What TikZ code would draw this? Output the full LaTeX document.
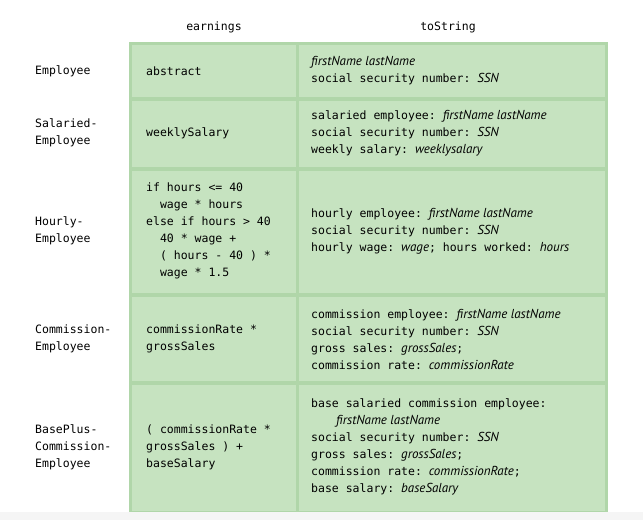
\documentclass[tikz,border=0pt]{standalone}
\usepackage{fontspec}
\setmonofont{DejaVu Sans Mono}
\newfontfamily\itf{PT Sans Italic}
\definecolor{cellg}{HTML}{C6E3C0}
\definecolor{lineg}{HTML}{B0D6A9}
\definecolor{txt}{HTML}{000000}
\newcommand{\iv}[1]{{\itf\fontsize{13}{17}\selectfont #1}}
\begin{document}
\begin{tikzpicture}[x=1pt,y=-1pt,
  every node/.style={font=\ttfamily\fontsize{11.5}{17}\selectfont,text=txt,inner sep=0pt,align=left},
  lab/.style={anchor=west},
  cell/.style={fill=cellg}]
\useasboundingbox (0,0) rectangle (643,520);
\fill[white] (0,0) rectangle (643,520);
\fill[black!4] (0,512) rectangle (643,520);
\fill[lineg] (129,42) rectangle (608,512);
\foreach \a/\b in {42/98,98/168,168/294,294/382,382/512}{
  \fill[cell] (132,\a+3) rectangle (296,\b-1);
  \fill[cell] (299,\a+3) rectangle (605,\b-1);
}
\node (h1) at (214,27) {earnings};
\node (h2) at (448,27) {toString};
\node[lab] (r1) at (35,71) {Employee};
\node[lab] (r2) at (35,133) {Salaried-\\Employee};
\node[lab] (r3) at (35,231) {Hourly-\\Employee};
\node[lab] (r4) at (35,339) {Commission-\\Employee};
\node[lab] (r5) at (35,447) {BasePlus-\\Commission-\\Employee};
\node[lab] (e1) at (146,71) {abstract};
\node[lab] (e2) at (146,133) {weeklySalary};
\node[lab] (e3) at (146,231) {if hours <= 40\\\ \ wage * hours\\else if hours > 40\\\ \ 40 * wage +\\\ \ ( hours - 40 ) *\\\ \ wage * 1.5};
\node[lab] (e4) at (146,339) {commissionRate *\\grossSales};
\node[lab] (e5) at (146,447) {( commissionRate *\\grossSales ) +\\baseSalary};
\node[lab] (s1) at (311,71) {\iv{firstName lastName}\\social security number: \iv{SSN}};
\node[lab] (s2) at (311,133) {salaried employee: \iv{firstName lastName}\\social security number: \iv{SSN}\\weekly salary: \iv{weeklysalary}};
\node[lab] (s3) at (311,231) {hourly employee: \iv{firstName lastName}\\social security number: \iv{SSN}\\hourly wage: \iv{wage}; hours worked: \iv{hours}};
\node[lab] (s4) at (311,339) {commission employee: \iv{firstName lastName}\\social security number: \iv{SSN}\\gross sales: \iv{grossSales};\\commission rate: \iv{commissionRate}};
\node[lab] (s5) at (311,447) {base salaried commission employee:\\\hspace{25pt}\iv{firstName lastName}\\social security number: \iv{SSN}\\gross sales: \iv{grossSales};\\commission rate: \iv{commissionRate};\\base salary: \iv{baseSalary}};
\end{tikzpicture}
\end{document}
